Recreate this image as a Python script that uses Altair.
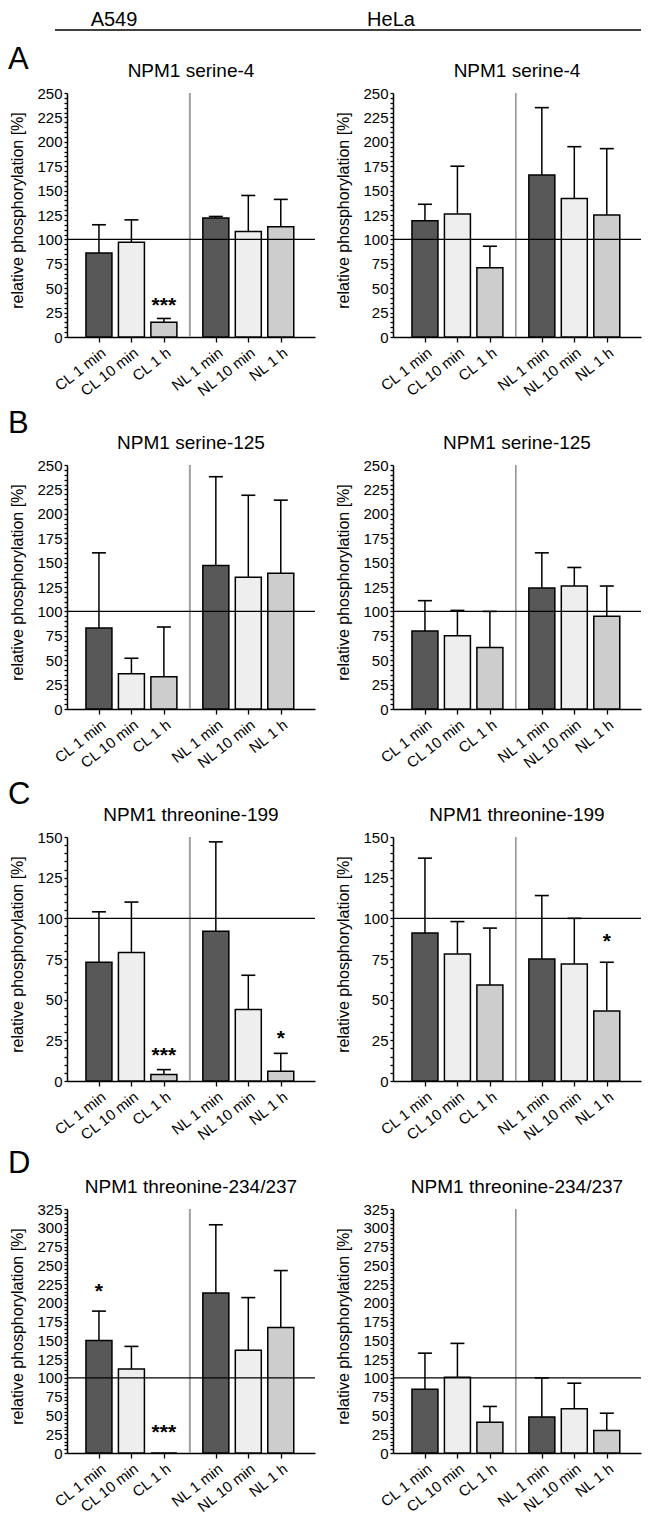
import json
import altair as alt
import pandas as pd

FONT = "Liberation Sans"

# ---------------- data ----------------
categories = ["CL 1 min", "CL 10 min", "CL 1 h", "NL 1 min", "NL 10 min", "NL 1 h"]
cell_lines = ["A549", "HeLa"]
panel_letters = ["A", "B", "C", "D"]
sites = ["NPM1 serine-4", "NPM1 serine-125", "NPM1 threonine-199", "NPM1 threonine-234/237"]
y_max = [250, 250, 150, 325]

# A: serine-4
a549_s4_mean = [86, 97, 15, 122, 108, 113]
a549_s4_top = [115, 120, 19, 123.5, 145, 141]
a549_s4_star = ["", "", "***", "", "", ""]
a549_s4_star_y = [None, None, 38, None, None, None]
hela_s4_mean = [119, 126, 71, 166, 142, 125]
hela_s4_top = [136, 175, 93, 235, 195, 193]
hela_s4_star = ["", "", "", "", "", ""]
hela_s4_star_y = [None, None, None, None, None, None]

# B: serine-125
a549_s125_mean = [83, 36, 33, 147, 135, 139]
a549_s125_top = [160, 52, 84, 238, 219, 214]
a549_s125_star = ["", "", "", "", "", ""]
a549_s125_star_y = [None, None, None, None, None, None]
hela_s125_mean = [80, 75, 63, 124, 126, 95]
hela_s125_top = [111, 101, 100, 160, 145, 126]
hela_s125_star = ["", "", "", "", "", ""]
hela_s125_star_y = [None, None, None, None, None, None]

# C: threonine-199
a549_t199_mean = [73, 79, 4, 92, 44, 6]
a549_t199_top = [104, 110, 7, 147, 65, 17]
a549_t199_star = ["", "", "***", "", "", "*"]
a549_t199_star_y = [None, None, 19, None, None, 29.5]
hela_t199_mean = [91, 78, 59, 75, 72, 43]
hela_t199_top = [137, 98, 94, 114, 100, 73]
hela_t199_star = ["", "", "", "", "", "*"]
hela_t199_star_y = [None, None, None, None, None, 89]

# D: threonine-234/237
a549_t234_mean = [150, 112, 0, 213, 137, 167]
a549_t234_top = [189, 142, None, 304, 207, 243]
a549_t234_star = ["*", "", "***", "", "", ""]
a549_t234_star_y = [223, None, 35, None, None, None]
hela_t234_mean = [85, 101, 41, 48, 59, 30]
hela_t234_top = [133, 146, 62, 100, 93, 53]
hela_t234_star = ["", "", "", "", "", ""]
hela_t234_star_y = [None, None, None, None, None, None]

panel_data = [
    [(a549_s4_mean, a549_s4_top, a549_s4_star, a549_s4_star_y),
     (hela_s4_mean, hela_s4_top, hela_s4_star, hela_s4_star_y)],
    [(a549_s125_mean, a549_s125_top, a549_s125_star, a549_s125_star_y),
     (hela_s125_mean, hela_s125_top, hela_s125_star, hela_s125_star_y)],
    [(a549_t199_mean, a549_t199_top, a549_t199_star, a549_t199_star_y),
     (hela_t199_mean, hela_t199_top, hela_t199_star, hela_t199_star_y)],
    [(a549_t234_mean, a549_t234_top, a549_t234_star, a549_t234_star_y),
     (hela_t234_mean, hela_t234_top, hela_t234_star, hela_t234_star_y)],
]

# ---------------- layout / style ----------------
W, H = 248, 244
GAP = 0.6
SEP = 2.8
XDOM = [-0.83, 6.5]
FILLS = ["#585858", "#eeeeee", "#cdcdcd", "#585858", "#eeeeee", "#cdcdcd"]
LETTER_Y = [-33, -41, -42, -45]
YTITLE = "relative phosphorylation [%]"

cats_js = json.dumps(categories)
slot_expr = (f"indexof({cats_js}, datum.condition) + "
             f"(indexof({cats_js}, datum.condition) >= 3 ? {GAP} : 0)")
tick_vals = [i + (GAP if i >= 3 else 0) for i in range(len(categories))]
x_label_expr = f"{cats_js}[indexof({json.dumps(tick_vals)}, datum.value)]"


def one(**kw):
    return alt.Data(values=[dict(kw)])


def panel(row, col):
    means, tops, stars, star_y = panel_data[row][col]
    ymax = y_max[row]
    df = pd.DataFrame({"condition": categories, "mean": means, "top": tops,
                       "star": stars, "star_y": star_y})
    xscale = alt.Scale(domain=XDOM, nice=False, zero=False)
    yscale = alt.Scale(domain=[0, ymax], nice=False, zero=True)

    def x_axis():
        return alt.Axis(values=tick_vals, labelExpr=x_label_expr, labelAngle=-38,
                        title=None, tickSize=5, labelPadding=3, labelFontSize=15,
                        labelOverlap=False, labelFlush=False)

    def y_axis():
        return alt.Axis(values=list(range(0, ymax + 1, 5)),
                        labelExpr="datum.value % 25 === 0 ? datum.label : ''",
                        tickSize=3, labelPadding=2, labelOverlap=False, labelFlush=False,
                        title=YTITLE, titleX=-42, titleY=117, titleBaseline="bottom")

    def X(field):
        return alt.X(field, scale=xscale, axis=x_axis())

    def Y(field):
        return alt.Y(field, scale=yscale, axis=y_axis())

    base = alt.Chart(df).transform_calculate(slot=slot_expr)

    bars = base.mark_bar(size=26, stroke="black", strokeWidth=1.5, opacity=1).encode(
        x=X("slot:Q"),
        y=alt.Y("mean:Q", scale=yscale, axis=y_axis(), stack=None),
        fill=alt.Fill("condition:N", scale=alt.Scale(domain=categories, range=FILLS),
                      legend=None),
    )

    sep = alt.Chart(one()).mark_rule(
        color="#a0a0a0" if col == 0 else "#707070",
        strokeWidth=2 if col == 0 else 1.2,
    ).encode(x=alt.X(datum=SEP, type="quantitative", scale=xscale, axis=x_axis()),
             y=alt.value(0), y2=alt.value(H))

    hline = alt.Chart(one()).mark_rule(color="black", strokeWidth=1.3).encode(
        y=alt.Y(datum=100, type="quantitative", scale=yscale, axis=y_axis()),
        x=alt.value(0), x2=alt.value(W))

    err = base.mark_rule(color="black", strokeWidth=1.5).encode(
        x=X("slot:Q"), y=Y("mean:Q"), y2="top:Q")

    cap = base.mark_tick(orient="horizontal", size=14, thickness=1.6,
                         color="black", opacity=1).encode(
        x=X("slot:Q"), y=Y("top:Q"))

    st = base.mark_text(font=FONT, fontSize=21, fontWeight="bold", dy=6,
                        color="black").encode(
        x=X("slot:Q"), y=Y("star_y:Q"), text="star:N")

    title = alt.Chart(one(t=sites[row])).mark_text(
        font=FONT, fontSize=19, color="black").encode(
        x=alt.value(W / 2), y=alt.value(-22), text="t:N")

    layers = [bars, sep, hline, err, cap, st, title]

    if col == 0:
        letter = alt.Chart(one(t=panel_letters[row])).mark_text(
            font=FONT, fontSize=31, color="black", align="left").encode(
            x=alt.value(-59), y=alt.value(LETTER_Y[row]), text="t:N")
        layers.append(letter)

    if row == 0:
        head = alt.Chart(one(t=cell_lines[col])).mark_text(
            font=FONT, fontSize=20, color="black").encode(
            x=alt.value(47 if col == 0 else -2), y=alt.value(-73), text="t:N")
        layers.append(head)
        if col == 0:
            line = alt.Chart(one()).mark_rule(color="black", strokeWidth=1.6).encode(
                x=alt.value(-12), x2=alt.value(574), y=alt.value(-63))
            layers.append(line)

    return alt.layer(*layers).properties(width=W, height=H)


panels = [panel(r, c) for r in range(4) for c in range(2)]

chart = (
    alt.concat(*panels, columns=2, spacing=alt.RowColnumber(row=128, column=78),
               bounds="flush")
    .properties(padding={"top": 2, "left": 0, "right": 0, "bottom": 0},
                background="white")
    .configure_view(stroke=None)
    .configure_axis(grid=False, domainColor="black", domainWidth=1.5,
                    tickColor="black", tickWidth=1.3, labelColor="black",
                    labelFont=FONT, labelFontSize=15, titleFont=FONT,
                    titleFontSize=16, titleFontWeight="normal", titleColor="black")
)

chart.save("out.html", embed_options={"renderer": "svg", "actions": False})
